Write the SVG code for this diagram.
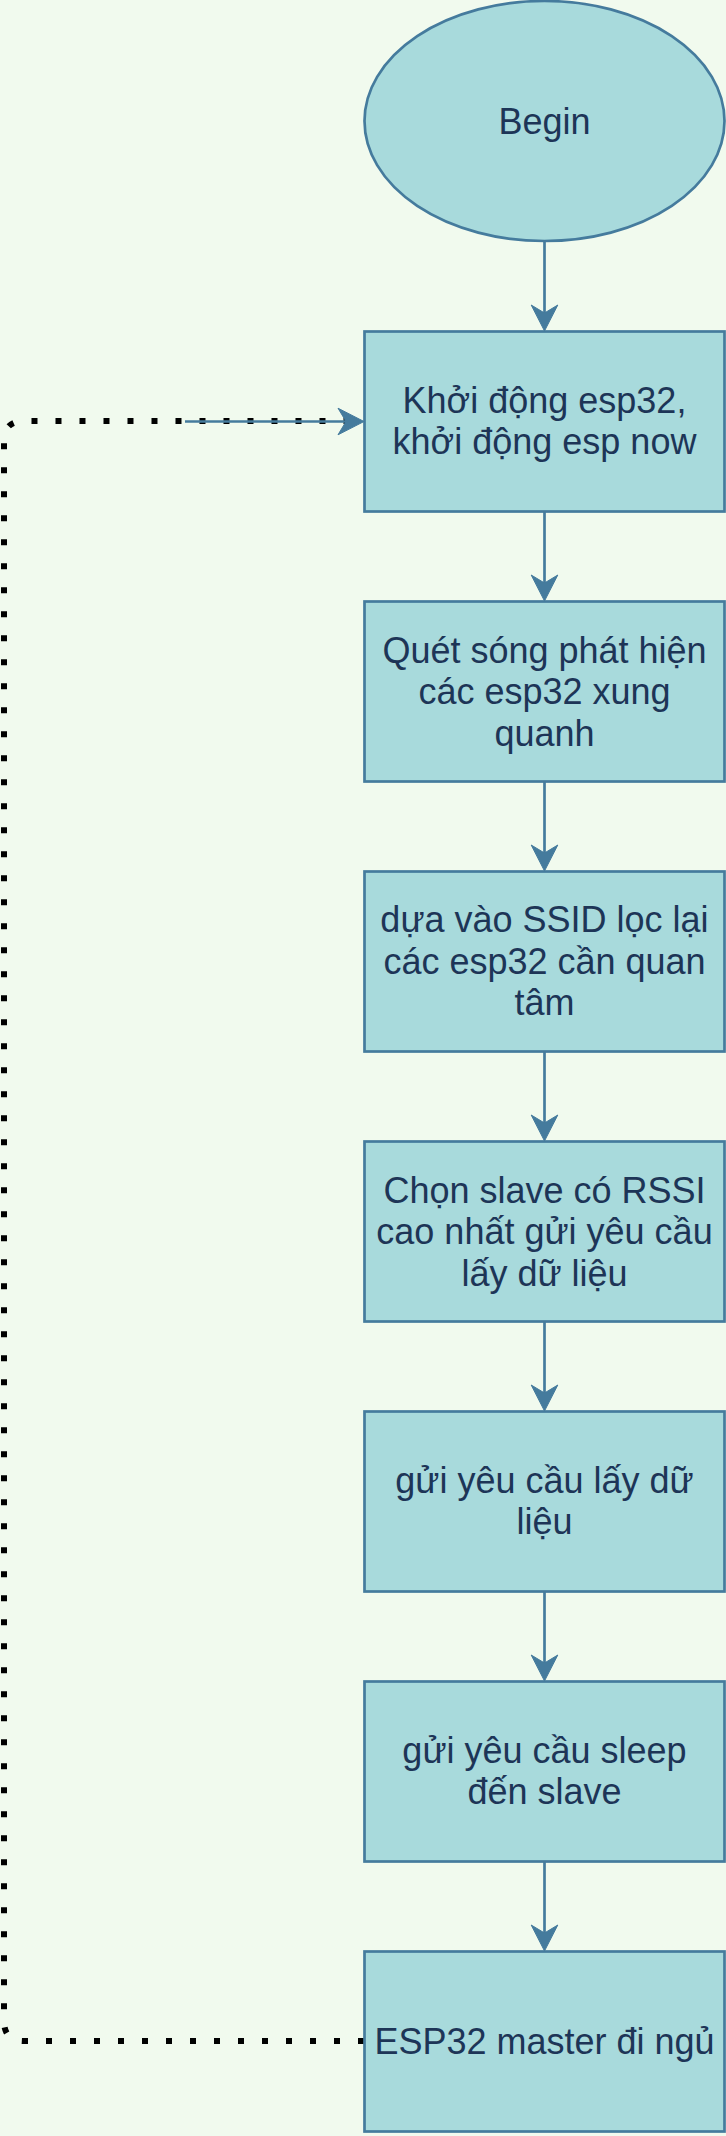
<svg xmlns="http://www.w3.org/2000/svg" width="726" height="2136" viewBox="0 0 726 2136">
<style>
.shape{fill:#A8DADC;stroke:#457B9D;stroke-width:2.7}
.lbl{font-family:"Liberation Sans",Arial,sans-serif;font-size:36px;fill:#1D3557;text-anchor:middle}
.edge{fill:none;stroke:#457B9D;stroke-width:2.7}
.head{fill:#457B9D;stroke:#457B9D;stroke-width:1}
.dots{fill:none;stroke:#000;stroke-width:6;stroke-dasharray:6 18}
</style>
<defs>
<path id="ah" class="head" d="M0,0 L-13.3,-26 L0,-18 L13.3,-26 Z"/>
</defs>
<rect width="726" height="2136" fill="#F1FAEE"/>
<g id="connectors">
<path class="dots" d="M364,2041 H24 Q4,2041 4,2021 V441 Q4,421 24,421 H364"/>
<path class="edge" d="M185,421.5 H346"/>
<path class="head" d="M364,421.5 L338,408.2 L346,421.5 L338,434.8 Z"/>
<path class="edge" d="M544.5,241 V314"/>
<use href="#ah" x="544.5" y="331"/>
<path class="edge" d="M544.5,511.5 V584"/>
<use href="#ah" x="544.5" y="601"/>
<path class="edge" d="M544.5,781.5 V854"/>
<use href="#ah" x="544.5" y="871"/>
<path class="edge" d="M544.5,1051.5 V1124"/>
<use href="#ah" x="544.5" y="1141"/>
<path class="edge" d="M544.5,1321.5 V1394"/>
<use href="#ah" x="544.5" y="1411"/>
<path class="edge" d="M544.5,1591.5 V1664"/>
<use href="#ah" x="544.5" y="1681"/>
<path class="edge" d="M544.5,1861.5 V1934"/>
<use href="#ah" x="544.5" y="1951"/>
</g>
<g id="begin">
<ellipse class="shape" cx="544.5" cy="121" rx="180" ry="120"/>
<text class="lbl" x="544.5" y="134">Begin</text>
</g>
<g id="n1">
<rect class="shape" x="364.5" y="331.5" width="360" height="180"/>
<text class="lbl" x="544.5" y="412.5">Khởi động esp32,</text>
<text class="lbl" x="544.5" y="454">khởi động esp now</text>
</g>
<g id="n2">
<rect class="shape" x="364.5" y="601.5" width="360" height="180"/>
<text class="lbl" x="544.5" y="662.5">Quét sóng phát hiện</text>
<text class="lbl" x="544.5" y="704">các esp32 xung</text>
<text class="lbl" x="544.5" y="745.5">quanh</text>
</g>
<g id="n3">
<rect class="shape" x="364.5" y="871.5" width="360" height="180"/>
<text class="lbl" x="544.5" y="932">dựa vào SSID lọc lại</text>
<text class="lbl" x="544.5" y="973.5">các esp32 cần quan</text>
<text class="lbl" x="544.5" y="1015">tâm</text>
</g>
<g id="n4">
<rect class="shape" x="364.5" y="1141.5" width="360" height="180"/>
<text class="lbl" x="544.5" y="1202.5">Chọn slave có RSSI</text>
<text class="lbl" x="544.5" y="1244">cao nhất gửi yêu cầu</text>
<text class="lbl" x="544.5" y="1285.5">lấy dữ liệu</text>
</g>
<g id="n5">
<rect class="shape" x="364.5" y="1411.5" width="360" height="180"/>
<text class="lbl" x="544.5" y="1492.5">gửi yêu cầu lấy dữ</text>
<text class="lbl" x="544.5" y="1534">liệu</text>
</g>
<g id="n6">
<rect class="shape" x="364.5" y="1681.5" width="360" height="180"/>
<text class="lbl" x="544.5" y="1762.5">gửi yêu cầu sleep</text>
<text class="lbl" x="544.5" y="1804">đến slave</text>
</g>
<g id="n7">
<rect class="shape" x="364.5" y="1951.5" width="360" height="180"/>
<text class="lbl" x="544.5" y="2054">ESP32 master đi ngủ</text>
</g>
</svg>
